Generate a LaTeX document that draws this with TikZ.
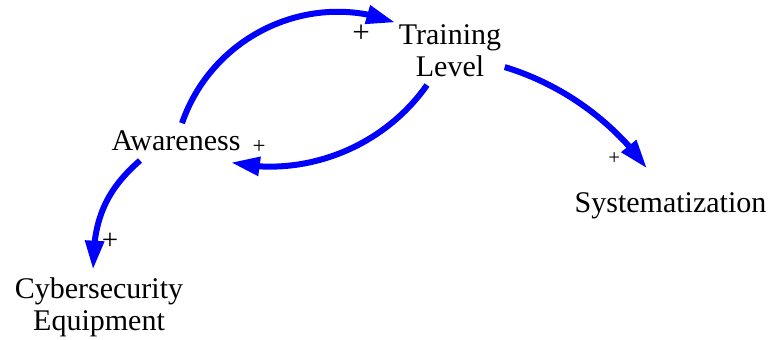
\documentclass[tikz,border=0pt]{standalone}
\usepackage{fontspec}
\setmainfont{Liberation Serif}
\usetikzlibrary{arrows.meta,bending}
\begin{document}
\begin{tikzpicture}[x=1pt,y=-1pt,
  var/.style={inner sep=2pt, align=center, font=\fontsize{30}{32}\selectfont},
  link/.style={draw={rgb,255:red,0;green,0;blue,255}, line width=6pt,
    -{Triangle[length=29pt,width=18pt,flex]}},
  sign/.style={inner sep=0pt, text=black},
  bigsign/.style={sign, font=\fontsize{31}{31}\selectfont},
  smallsign/.style={sign, font=\fontsize{21}{21}\selectfont}]
\useasboundingbox (0,0) rectangle (769,340);

% variables
\node[var] (tr) at (450,50.75) {Training\\Level};
\node[var, anchor=base] (aw) at (176,150) {Awareness};
\node[var, anchor=base] (sys) at (670.5,212) {Systematization};
\node[var] (cyb) at (99,307) {Cybersecurity\\Equipment};

% causal links (circular arcs as cubic curves)
\draw[link] ([shift={(6,-4.8)}]aw.north)
  .. controls +(30,-87.3) and +(-86.2,-33.1) .. ([xshift=-1.4pt]tr.north west);
\draw[link] ([shift={(-23,6)}]tr.south)
  .. controls +(-43.6,62.1) and +(74.2,16) .. ([shift={(-11.8,10)}]aw.south east);
\draw[link] ([shift={(1.4,16.3)}]tr.east)
  .. controls +(57.1,17.4) and +(-35.2,-48.2) .. ([shift={(-23.5,-21.5)}]sys.north);
\draw[link] ([shift={(-36,8)}]aw.south)
  .. controls +(-33,29) and +(0,-52) .. ([shift={(-6,-5.5)}]cyb.north);

% link polarities
\node[bigsign] (p1) at (361,33.4) {+};
\node[smallsign, font=\fontsize{23}{23}\selectfont] (p2) at (259,146.7) {+};
\node[smallsign] (p3) at (614.3,158.3) {+};
\node[bigsign, font=\fontsize{29}{29}\selectfont] (p4) at (110,241.7) {+};
\end{tikzpicture}
\end{document}
